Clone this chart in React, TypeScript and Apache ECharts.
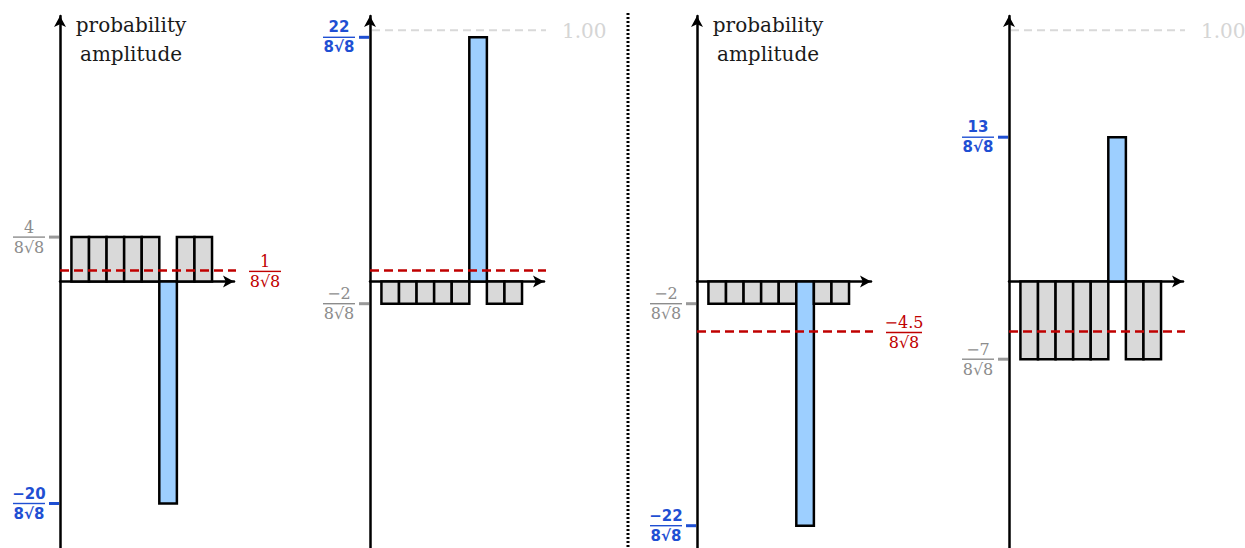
import React, { useEffect, useRef } from 'react';
import * as echarts from 'echarts';

// Amplitudes are given in units of 1/(8√8); the marked state is index 5.
const stateLabels = ['000', '001', '010', '011', '100', '101', '110', '111'];
const markedIndex = 5;
const afterOracle1 = [4, 4, 4, 4, 4, -20, 4, 4];
const afterDiffusion1 = [-2, -2, -2, -2, -2, 22, -2, -2];
const afterOracle2 = [-2, -2, -2, -2, -2, -22, -2, -2];
const afterDiffusion2 = [-7, -7, -7, -7, -7, 13, -7, -7];
const panelAmplitudes = [afterOracle1, afterDiffusion1, afterOracle2, afterDiffusion2];

const meanValues = [1, 1, -4.5, -4.5];
const meanLabels = ['1', '', '−4.5', ''];
const axisTickValues = [[4, -20], [22, -2], [-2, -22], [13, -7]];
const axisTickLabels = [['4', '−20'], ['22', '−2'], ['−2', '−22'], ['13', '−7']];
const showFullScale = [false, true, false, true];
const fullScaleLabel = '1.00';
const yAxisTitles = ['probability\namplitude', '', 'probability\namplitude', ''];
const denominator = '8√8';
const fullScaleValue = 8 * Math.sqrt(8); // amplitude 1.00 expressed in 1/(8√8) units

// Layout
const W = 1245;
const H = 548;
const panelLeft = [60, 370, 697, 1009];
const panelWidth = 174;
const gridTop = 16;
const zeroY = 281.5;
const pxPerUnit = 11.1;
const yMax = (zeroY - gridTop) / pxPerUnit;
const yMin = -(H - zeroY) / pxPerUnit;
const xMax = 9.9;
const barOffset = 0.65;

const GRAY_FILL = '#d9d9d9';
const BLUE_FILL = '#9dcfff';
const RED = '#c00000';
const BLUE_TEXT = '#1f4fd3';
const GRAY_TEXT = '#8c8c8c';
const SERIF = '"DejaVu Serif", serif';
const SANS = '"DejaVu Sans", sans-serif';

function fraction(cx: number, cy: number, num: string, color: string, sans: boolean, half: number) {
  const font = sans ? `bold 15px ${SANS}` : `16px ${SERIF}`;
  return [
    { type: 'text', x: cx, y: cy - 2, style: { text: num, fill: color, font, lineHeight: 16, align: 'center', verticalAlign: 'bottom' } },
    { type: 'line', shape: { x1: cx - half, y1: cy, x2: cx + half, y2: cy }, style: { stroke: color, lineWidth: 1.4 } },
    { type: 'text', x: cx, y: cy + 2, style: { text: denominator, fill: color, font, lineHeight: 16, align: 'center', verticalAlign: 'top' } },
  ];
}

function buildOption() {
  const grid: any[] = [];
  const xAxis: any[] = [];
  const yAxis: any[] = [];
  const series: any[] = [];

  panelAmplitudes.forEach((amps, p) => {
    grid.push({ left: panelLeft[p], width: panelWidth, top: gridTop, bottom: 0, containLabel: false });
    xAxis.push({
      type: 'value', gridIndex: p, min: 0, max: xMax,
      axisLine: { show: true, onZero: true, symbol: ['none', 'arrow'], symbolSize: [9, 11], lineStyle: { color: '#000', width: 2.5 } },
      axisTick: { show: false }, axisLabel: { show: false }, splitLine: { show: false },
    });
    yAxis.push({
      type: 'value', gridIndex: p, min: yMin, max: yMax,
      axisLine: { show: true, onZero: false, symbol: ['none', 'arrow'], symbolSize: [9, 11], lineStyle: { color: '#000', width: 2.5 } },
      axisTick: { show: false }, axisLabel: { show: false }, splitLine: { show: false },
    });

    // amplitude bars, one per basis state
    const barData = amps.map((v, i) => [i, v]);
    series.push({
      type: 'custom', name: `amplitudes-${p}`, xAxisIndex: p, yAxisIndex: p, z: 3,
      data: barData,
      renderItem: (_params: any, api: any) => {
        const i = api.value(0);
        const v = api.value(1);
        const a = api.coord([barOffset + i, 0]);
        const b = api.coord([barOffset + i + 1, v]);
        return {
          type: 'rect',
          shape: { x: a[0], y: Math.min(a[1], b[1]), width: b[0] - a[0], height: Math.abs(b[1] - a[1]) },
          style: { fill: i === markedIndex ? BLUE_FILL : GRAY_FILL, stroke: '#000', lineWidth: 2.5 },
        };
      },
    });

    // mean amplitude line
    series.push({
      type: 'custom', name: `mean-${p}`, xAxisIndex: p, yAxisIndex: p, z: 5, clip: false,
      data: [[0, meanValues[p]]],
      renderItem: (_params: any, api: any) => {
        const m = api.value(1);
        const a = api.coord([0, m]);
        const b = api.coord([xMax, m]);
        const children: any[] = [
          { type: 'line', shape: { x1: a[0], y1: a[1], x2: b[0] + 2, y2: b[1] }, style: { stroke: RED, lineWidth: 2.5, lineDash: [9, 5] } },
        ];
        const lbl = meanLabels[p];
        if (lbl) {
          const half = lbl.length > 2 ? 18 : 16;
          children.push(...fraction(b[0] + 15 + half, b[1] + 1, lbl, RED, false, half));
        }
        return { type: 'group', children };
      },
    });

    // full-scale reference (amplitude 1.00)
    if (showFullScale[p]) {
      series.push({
        type: 'custom', name: `full-${p}`, xAxisIndex: p, yAxisIndex: p, z: 1, clip: false,
        data: [[0, fullScaleValue]],
        renderItem: (_params: any, api: any) => {
          const f = api.value(1);
          const a = api.coord([0, f]);
          const b = api.coord([xMax, f]);
          return {
            type: 'group',
            children: [
              { type: 'line', shape: { x1: a[0] + 2, y1: a[1], x2: b[0] + 2, y2: b[1] }, style: { stroke: '#d9d9d9', lineWidth: 2, lineDash: [8, 5] } },
              { type: 'text', x: b[0] + 18, y: b[1] + 1, style: { text: fullScaleLabel, fill: '#d5d5d5', font: `20px ${SERIF}`, align: 'left', verticalAlign: 'middle' } },
            ],
          };
        },
      });
    }

    // value ticks on the amplitude axis
    const marked = amps[markedIndex];
    series.push({
      type: 'custom', name: `ticks-${p}`, xAxisIndex: p, yAxisIndex: p, z: 6, clip: false,
      data: axisTickValues[p].map((v, k) => [k, v]),
      renderItem: (_params: any, api: any) => {
        const k = api.value(0);
        const v = api.value(1);
        const pt = api.coord([0, v]);
        const isMarked = v === marked;
        const color = isMarked ? BLUE_TEXT : GRAY_TEXT;
        const tickColor = isMarked ? BLUE_TEXT : '#999999';
        return {
          type: 'group',
          children: [
            { type: 'line', shape: { x1: pt[0] - 11, y1: pt[1], x2: pt[0] - 1, y2: pt[1] }, style: { stroke: tickColor, lineWidth: 3 } },
            ...fraction(pt[0] - 31, pt[1], axisTickLabels[p][k], color, isMarked, 16),
          ],
        };
      },
    });
  });

  const graphic: any[] = [
    { type: 'line', shape: { x1: 628, y1: 13, x2: 628, y2: H }, style: { stroke: '#000', lineWidth: 3, lineDash: [2, 2] } },
  ];
  yAxisTitles.forEach((t, p) => {
    if (!t) return;
    graphic.push({
      type: 'text', x: panelLeft[p] + 71, y: 10,
      style: { text: t, fill: '#1a1a1a', font: `20px ${SERIF}`, align: 'center', verticalAlign: 'top', lineHeight: 29 },
    });
  });

  return { animation: false, grid, xAxis, yAxis, series, graphic };
}

export default function App() {
  const ref = useRef<HTMLDivElement>(null);
  useEffect(() => {
    if (!ref.current) return;
    const chart = echarts.init(ref.current, undefined, { renderer: 'svg' });
    chart.setOption(buildOption());
    return () => chart.dispose();
  }, []);
  return (
    <div
      ref={ref}
      data-states={stateLabels.join(',')}
      style={{ position: 'absolute', left: 0, top: 0, width: W, height: H, background: '#fff' }}
    />
  );
}
